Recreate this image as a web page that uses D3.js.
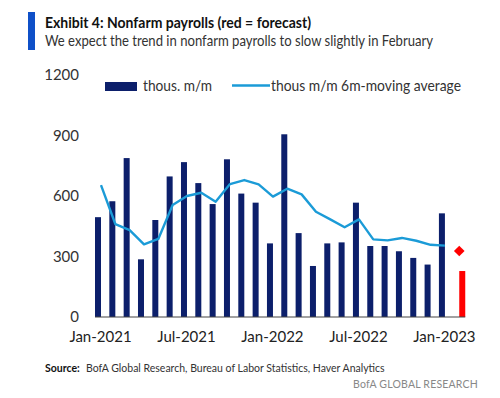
<!DOCTYPE html>
<html>
<head>
<meta charset="utf-8">
<script src="https://cdn.jsdelivr.net/npm/d3@7"></script>
<style>
  body { margin: 0; background: #fff; }
  svg { display: block; font-family: Lato, "Open Sans", sans-serif; }
</style>
</head>
<body>
<svg id="chart" width="500" height="398"></svg>
<script>
// months Jan-2021 .. Jan-2023 (actuals)
const months = ['2021-01','2021-02','2021-03','2021-04','2021-05','2021-06','2021-07','2021-08','2021-09','2021-10','2021-11','2021-12',
  '2022-01','2022-02','2022-03','2022-04','2022-05','2022-06','2022-07','2022-08','2022-09','2022-10','2022-11','2022-12','2023-01'];
const payrolls = [495, 574, 788, 286, 481, 697, 768, 664, 560, 782, 612, 567,
  365, 906, 416, 253, 365, 370, 567, 352, 352, 326, 293, 260, 514];
const movingAvg = [654, 461, 431, 360, 387, 555, 600, 616, 572, 659, 679, 658,
  597, 636, 608, 522, 484, 445, 484, 385, 380, 392, 378, 358, 354];
const forecastMonth = '2023-02';
const forecastBar = 228;
const forecastDot = 327;
const yTicks = [0, 300, 600, 900, 1200];
const xTickMonths = ['2021-01', '2021-07', '2022-01', '2022-07', '2023-01'];
const xTickLabels = ['Jan-2021', 'Jul-2021', 'Jan-2022', 'Jul-2022', 'Jan-2023'];

const navy = '#0c1f6b', lineBlue = '#1b9bd7', red = '#ff0000';
const svg = d3.select('#chart');

// title block
svg.append('rect').attr('x', 28).attr('y', 12).attr('width', 7).attr('height', 38).attr('fill', '#0f50c8');
svg.append('text').attr('x', 45).attr('y', 28)
  .attr('textLength', 266).attr('lengthAdjust', 'spacingAndGlyphs')
  .style('font-size', '16px').style('font-weight', '700').style('fill', '#111')
  .text('Exhibit 4: Nonfarm payrolls (red = forecast)');
svg.append('text').attr('x', 45).attr('y', 46)
  .attr('textLength', 388).attr('lengthAdjust', 'spacingAndGlyphs')
  .style('font-size', '15px').style('fill', '#333')
  .text('We expect the trend in nonfarm payrolls to slow slightly in February');

// scales
const allMonths = months.concat([forecastMonth]);
const x = d3.scalePoint().domain(allMonths).range([98, 98 + 25 * 14.33]);
const y = d3.scaleLinear().domain([0, 1200]).range([317, 75]);
const barW = 6;

// y tick labels (no axis line)
const yAxis = svg.append('g').attr('transform', 'translate(84,0)')
  .call(d3.axisLeft(y).tickValues(yTicks).tickSize(0).tickPadding(5).tickFormat(d3.format('d')));
yAxis.select('.domain').remove();
yAxis.selectAll('text').style('font-family', 'Lato, sans-serif').style('font-size', '15px').style('fill', '#333');

// bars
svg.append('g').selectAll('rect')
  .data(months.map((m, i) => ({ m, v: payrolls[i] })))
  .join('rect')
  .attr('x', d => x(d.m) - barW / 2)
  .attr('y', d => y(d.v))
  .attr('width', barW)
  .attr('height', d => y(0) - y(d.v))
  .attr('fill', navy);

// forecast bar + diamond (sits a bit right of the regular slot)
svg.append('rect')
  .attr('x', x(forecastMonth) + 6 - barW / 2)
  .attr('y', y(forecastBar))
  .attr('width', barW)
  .attr('height', y(0) - y(forecastBar))
  .attr('fill', red);
svg.append('path')
  .attr('d', d3.symbol(d3.symbolDiamond2, 72)())
  .attr('transform', `translate(${x(forecastMonth) + 3},${y(forecastDot)})`)
  .attr('fill', red);

// moving average line
const line = d3.line()
  .x((d, i) => x(months[i]) + 3)
  .y(d => y(d));
svg.append('path')
  .datum(movingAvg)
  .attr('d', line)
  .attr('fill', 'none')
  .attr('stroke', lineBlue)
  .attr('stroke-width', 2.4)
  .attr('stroke-linejoin', 'round');

// x axis
const xAxis = svg.append('g').attr('transform', `translate(0,${y(0)})`)
  .call(d3.axisBottom(x).tickValues(xTickMonths).tickSize(0).tickPadding(14)
    .tickFormat((d, i) => xTickLabels[i]));
xAxis.select('.domain').remove();
xAxis.selectAll('text').style('font-family', 'Lato, sans-serif').style('font-size', '15px').style('fill', '#222')
  .attr('dx', 2);
svg.append('line')
  .attr('x1', x(months[0]) - barW / 2).attr('x2', x(forecastMonth) + 6 + barW / 2)
  .attr('y1', y(0)).attr('y2', y(0))
  .attr('stroke', '#444').attr('stroke-width', 1.2);

// legend
svg.append('rect').attr('x', 105).attr('y', 82).attr('width', 32).attr('height', 9).attr('fill', navy);
svg.append('text').attr('x', 143).attr('y', 91)
  .attr('textLength', 69).attr('lengthAdjust', 'spacingAndGlyphs')
  .style('font-size', '15px').style('fill', '#333').text('thous. m/m');
svg.append('line').attr('x1', 232).attr('x2', 270).attr('y1', 85.5).attr('y2', 85.5)
  .attr('stroke', lineBlue).attr('stroke-width', 2.4);
svg.append('text').attr('x', 271).attr('y', 91)
  .attr('textLength', 190).attr('lengthAdjust', 'spacingAndGlyphs')
  .style('font-size', '15px').style('fill', '#333').text('thous m/m 6m-moving average');

// source
const src = svg.append('text').attr('x', 45).attr('y', 372).style('font-size', '10.5px').style('fill', '#333');
src.append('tspan').style('font-weight', '700').style('fill', '#111').text('Source:');
src.append('tspan').attr('x', 86).text('BofA Global Research, Bureau of Labor Statistics, Haver Analytics');
svg.append('text').attr('x', 478).attr('y', 388).attr('text-anchor', 'end')
  .style('font-size', '10.5px').style('fill', '#888').style('letter-spacing', '0.2px')
  .text('BofA GLOBAL RESEARCH');
</script>
</body>
</html>
